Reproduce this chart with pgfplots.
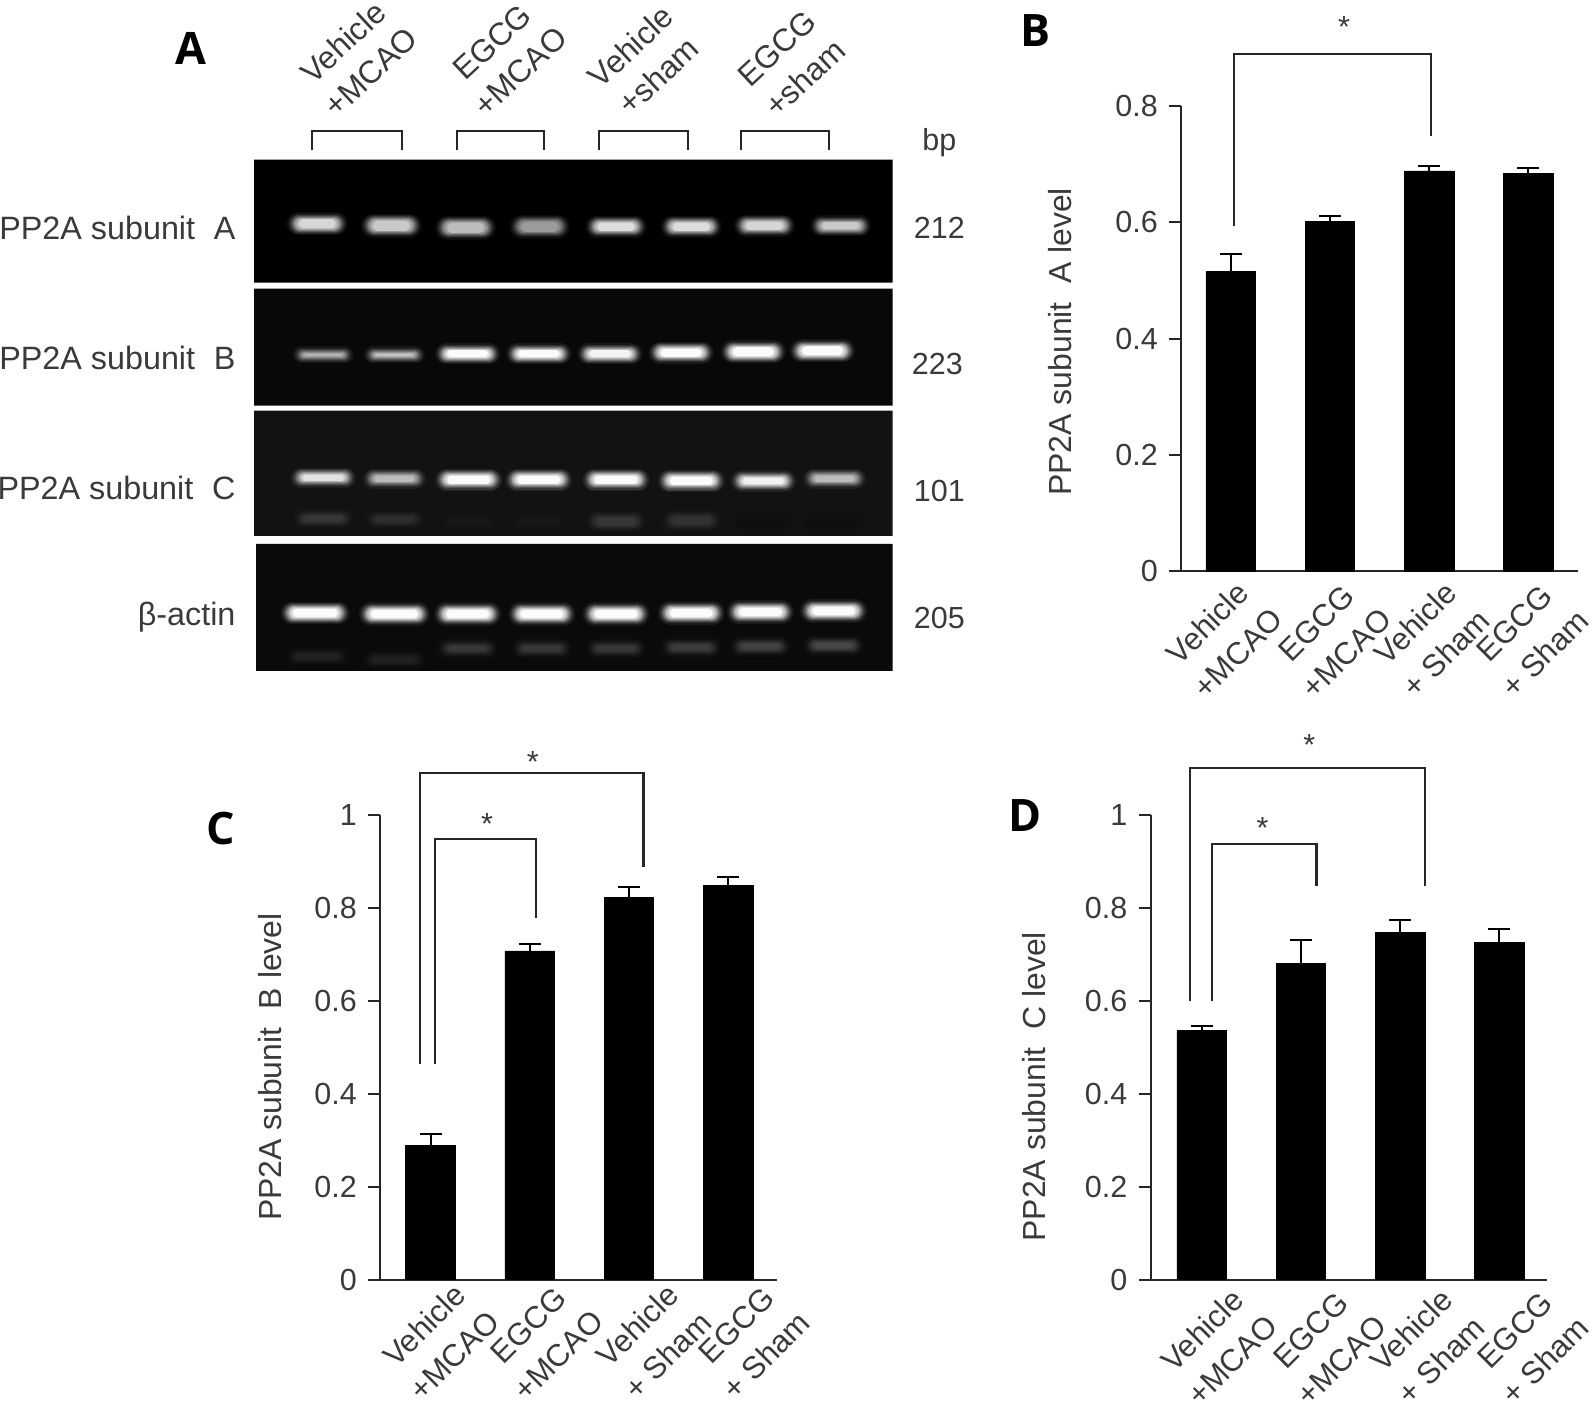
\documentclass[border=0pt]{standalone}
\usepackage{pgfplots}
\pgfplotsset{compat=1.18}
\usepackage{fontspec}
\setmainfont{Liberation Sans}
\newfontfamily\panelfont{Open Sans}
\definecolor{txt}{HTML}{3A3A3A}
\definecolor{ln}{HTML}{262626}
\newcommand\layer[6]{%
 \pgfmathsetmacro\xa{#1-(#3)+(#4)/2}\pgfmathsetmacro\xb{#1+(#3)-(#4)/2}\pgfmathsetmacro\lw{(#4)*0.5}%
 \edef\tmp{\noexpand\addplot[forget plot,draw=white!#5!black,opacity=#6,line cap=round,line width=\lw pt] coordinates {(\xa,#2) (\xb,#2)};}\tmp}
\newcommand\band[5]{%
 \layer{#1}{#2}{#3/2+7}{#4+11}{#5}{.07}%
 \layer{#1}{#2}{#3/2+5}{#4+8}{#5}{.10}%
 \layer{#1}{#2}{#3/2+3.5}{#4+6}{#5}{.14}%
 \layer{#1}{#2}{#3/2+2}{#4+4}{#5}{.2}%
 \layer{#1}{#2}{#3/2+0.5}{#4+2}{#5}{.28}%
 \layer{#1}{#2}{#3/2-1}{#4}{#5}{.38}%
 \layer{#1}{#2}{#3/2-3}{#4-2}{#5}{.5}%
 \layer{#1}{#2}{#3/2-5}{#4-3.5}{#5}{.9}}
\pgfplotsset{
 barax/.style={
  scale only axis, width=195pt, clip=false,
  axis x line=bottom, axis y line=left,
  axis line style={-,ln,line width=1pt},
  xmin=-0.5,xmax=3.5,ymin=0,
  xticklabels={{Vehicle\\+MCAO},{EGCG\\+MCAO},{Vehicle\\+ Sham},{EGCG\\+ Sham}},
  x tick style={draw=none},
  y tick style={ln,line width=1pt},
  major tick length=6pt,
  tick align=outside,
  xticklabel style={rotate=45,align=center,anchor=center,font=\fontsize{15.3}{21}\selectfont,text=txt},
  yticklabel style={font=\fontsize{15}{18}\selectfont,text=txt,xshift=-2pt},
  /pgf/number format/assume math mode=true,
  /pgf/number format/fixed,
  /pgf/number format/precision=1,
  ylabel style={font=\fontsize{15.7}{18}\selectfont,text=txt},
 },
 barplot/.style={ybar,bar width=24.5pt,fill=black,draw=black,
  error bars/.cd,y dir=plus,y explicit,
  error bar style={black,line width=1pt},
  error mark options={rotate=90,mark size=5.5pt,line width=1pt,black}},
 ann/.style={forget plot,ln,line width=1pt},
}
\begin{document}
\begin{tikzpicture}
\path[use as bounding box] (0,0) rectangle (784pt,-694.5pt);
% ---------- pixel-space axis: gel panel and annotations ----------
\begin{axis}[at={(0,0)},anchor=north west,scale only axis,width=784pt,height=694.5pt,
  xmin=0,xmax=1568,ymin=0,ymax=1389,y dir=reverse,hide axis,clip=false]
% gel backgrounds
\addplot[forget plot,fill=black,draw=none] coordinates {(250,157)(878,157)(878,278)(250,278)(250,157)};
\addplot[forget plot,fill=black!97!white,draw=none] coordinates {(250,284)(878,284)(878,399)(250,399)(250,284)};
\addplot[forget plot,fill=black!93!white,draw=none] coordinates {(250,404)(878,404)(878,527)(250,527)(250,404)};
\addplot[forget plot,fill=black!96!white,draw=none] coordinates {(252,535)(878,535)(878,660)(252,660)(252,535)};
% subunit A
\band{312}{220}{46}{12}{85}\band{385}{222}{46}{13}{80}\band{458}{224}{46}{13}{75}\band{531}{223}{46}{13}{62}
\band{606}{223}{46}{11}{88}\band{680}{223}{46}{11}{88}\band{752}{222}{46}{11}{85}\band{827}{222}{46}{10}{80}
% subunit B
\band{318}{349}{46}{6}{72}\band{388}{349}{46}{6}{78}\band{460}{348}{50}{10}{100}\band{530}{348}{50}{10}{100}
\band{600}{348}{50}{10}{97}\band{670}{347}{50}{11}{100}\band{741}{346}{50}{12}{100}\band{809}{345}{50}{12}{100}
% subunit C
\band{318}{470}{50}{9}{90}\band{388}{471}{48}{9}{75}\band{461}{472}{52}{11}{100}\band{530}{472}{52}{11}{100}
\band{606}{472}{52}{11}{100}\band{680}{473}{52}{11}{100}\band{751}{473}{50}{10}{96}\band{821}{471}{48}{9}{75}
\band{318}{510}{46}{9}{22}\band{388}{511}{46}{9}{18}\band{461}{513}{46}{8}{10}\band{530}{513}{46}{8}{10}
\band{606}{513}{46}{10}{22}\band{680}{512}{46}{10}{20}\band{751}{513}{46}{8}{6}\band{821}{513}{46}{8}{6}
% beta-actin
\band{310}{603}{54}{11}{100}\band{388}{604}{56}{12}{100}\band{460}{604}{52}{12}{100}\band{533}{604}{52}{12}{100}
\band{606}{604}{52}{12}{100}\band{680}{603}{52}{12}{100}\band{748}{602}{52}{12}{100}\band{820}{601}{52}{12}{100}
\band{312}{646}{50}{9}{13}\band{388}{649}{50}{9}{13}\band{460}{638}{46}{9}{22}\band{533}{638}{46}{9}{22}
\band{606}{638}{46}{9}{22}\band{680}{637}{46}{9}{24}\band{748}{636}{46}{9}{26}\band{820}{635}{46}{9}{28}
% lane brackets
\addplot[ann] coordinates {(307,148)(307,129)(395,129)(395,148)};
\addplot[ann] coordinates {(450,148)(450,129)(535,129)(535,148)};
\addplot[ann] coordinates {(589,148)(589,129)(677,129)(677,148)};
\addplot[ann] coordinates {(729,148)(729,129)(815,129)(815,148)};
% significance brackets
\addplot[ann] coordinates {(1214,222)(1214,53)(1408,53)(1408,134)};
\addplot[ann] coordinates {(413,1047)(413,760)(633,760)(633,853)};
\addplot[ann] coordinates {(428,1047)(428,825)(527,825)(527,903)};
\addplot[ann] coordinates {(1171,985)(1171,755)(1402,755)(1402,872)};
\addplot[ann] coordinates {(1192,985)(1192,830)(1295,830)(1295,872)};
\begin{scope}[every node/.style={font=\fontsize{15}{18}\selectfont,text=txt}]
\node at (axis cs:1322,27) {*};
\node at (axis cs:524,750) {*};
\node at (axis cs:479,811) {*};
\node at (axis cs:1288,733) {*};
\node at (axis cs:1242,814) {*};
\node at (axis cs:924,140) {bp};
\node at (axis cs:924,224) {212};
\node at (axis cs:922,358) {223};
\node at (axis cs:924,483) {101};
\node at (axis cs:924,608) {205};
\end{scope}
\begin{scope}[every node/.style={font=\fontsize{15.9}{18}\selectfont,text=txt,inner xsep=0pt}]
\node[anchor=east] at (axis cs:232,224) {PP2A subunit\hspace{0.3em} A};
\node[anchor=east] at (axis cs:232,352) {PP2A subunit\hspace{0.3em} B};
\node[anchor=east] at (axis cs:232,480) {PP2A subunit\hspace{0.3em} C};
\node[anchor=east] at (axis cs:232,607) {β-actin};
\end{scope}
\begin{scope}[every node/.style={font=\fontsize{15.6}{20}\selectfont,text=txt,rotate=43,align=center}]
\node at (axis cs:351,56) {Vehicle\\+MCAO};
\node at (axis cs:498,56) {EGCG\\+MCAO};
\node at (axis cs:634,60) {Vehicle\\+sham};
\node at (axis cs:778,62) {EGCG\\+sham};
\end{scope}
\begin{scope}[every node/.style={font=\panelfont\bfseries\fontsize{22}{26}\selectfont,text=black}]
\node at (axis cs:188,48) {A};
\node at (axis cs:1019,30) {B};
\node at (axis cs:217,815) {C};
\node at (axis cs:1008,802) {D};
\end{scope}
\end{axis}
% ---------- panel B ----------
\begin{axis}[barax,at={(581pt,-281pt)},anchor=south west,height=229pt,ymax=0.8,
  xtick={-0.1,1,2,3},
  ytick={0,0.2,0.4,0.6,0.8},yticklabels={0,0.2,0.4,0.6,0.8},
  xticklabel style={xshift=-18.5pt,yshift=-19.6pt},
  ylabel={PP2A subunit\hspace{0.3em} A level},
  ylabel style={at={(axis description cs:-0.259,0.493)},anchor=south}]
\addplot[barplot] coordinates {(0,0.515)+-(0,0.030) (1,0.601)+-(0,0.010) (2,0.688)+-(0,0.009) (3,0.683)+-(0,0.010)};
\end{axis}
% ---------- panel C ----------
\begin{axis}[barax,at={(187pt,-629.5pt)},anchor=south west,height=228.5pt,ymax=1,
  xmin=-0.51,xmax=3.49,
  xtick={-0.15,0.9,2,3},
  ytick={0,0.2,0.4,0.6,0.8,1},yticklabels={0,0.2,0.4,0.6,0.8,1},
  xticklabel style={xshift=-8.7pt,yshift=-24.9pt},
  ylabel={PP2A subunit\hspace{0.3em} B level},
  ylabel style={at={(axis description cs:-0.231,0.458)},anchor=south}]
\addplot[barplot] coordinates {(0,0.289)+-(0,0.026) (1,0.708)+-(0,0.016) (2,0.823)+-(0,0.022) (3,0.850)+-(0,0.017)};
\end{axis}
% ---------- panel D ----------
\begin{axis}[barax,at={(566pt,-629.5pt)},anchor=south west,height=228.5pt,ymax=1,
  xmin=-0.515,xmax=3.485,
  xtick={-0.16,0.94,1.95,3},
  ytick={0,0.2,0.4,0.6,0.8,1},yticklabels={0,0.2,0.4,0.6,0.8,1},
  xticklabel style={xshift=-7.7pt,yshift=-29.3pt},
  ylabel={PP2A subunit\hspace{0.3em} C level},
  ylabel style={at={(axis description cs:-0.246,0.416)},anchor=south}]
\addplot[barplot] coordinates {(0,0.536)+-(0,0.011) (1,0.682)+-(0,0.049) (2,0.748)+-(0,0.027) (3,0.726)+-(0,0.029)};
\end{axis}
\end{tikzpicture}
\end{document}
